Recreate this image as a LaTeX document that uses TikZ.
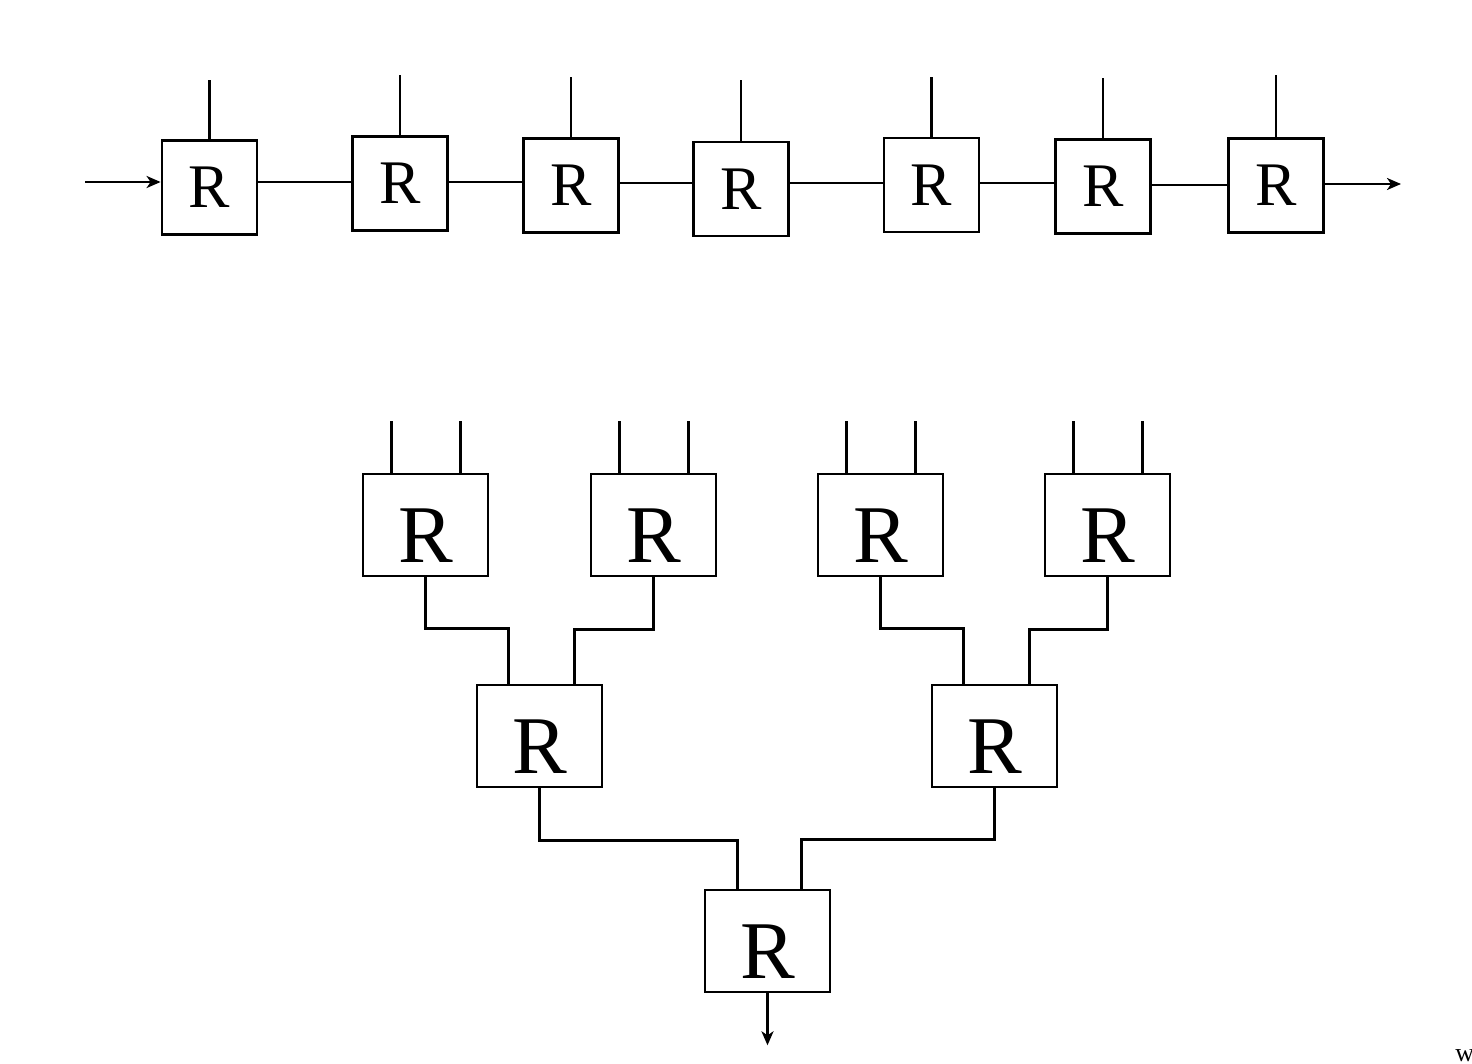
\documentclass[tikz,border=0pt]{standalone}
\usepackage{fontspec}
\setmainfont{Liberation Serif}
\usetikzlibrary{calc,arrows,arrows.meta}

\tikzset{
  rbox/.style={draw,line width=1.4pt,inner sep=0,minimum width=47.5pt,minimum height=47pt,font=\fontsize{31}{31}\selectfont},
  rbig/.style={draw,line width=1.3pt,inner sep=0,minimum width=62.5pt,minimum height=51pt,text height=37pt,text depth=0pt,font=\fontsize{41}{41}\selectfont},
  wire/.style={line width=1.2pt},
  tip/.style={-{Stealth[length=7pt,width=6pt,inset=2pt]}},
}

\begin{document}
\begin{tikzpicture}[x=0.5pt,y=-0.5pt]
    \useasboundingbox (0,0) rectangle (1472,1064);
    % chain of R boxes
    \node[rbox] (r1) at (209.5,187.5) {R};
    \node[rbox] (r2) at (400,183.5) {R};
    \node[rbox] (r3) at (571,185.5) {R};
    \node[rbox] (r4) at (741,189) {R};
    \node[rbox] (r5) at (931.5,185) {R};
    \node[rbox] (r6) at (1103,186.5) {R};
    \node[rbox] (r7) at (1276,185.5) {R};
    \foreach \n/\t in {r1/80,r2/75,r3/77,r4/80,r5/77,r6/78,r7/75}
        \draw[wire] (\n.north) -- (\n.north |- 0,\t);
    \foreach \a/\b/\y in {r1/r2/182,r2/r3/182,r3/r4/183,r4/r5/183,r5/r6/183,r6/r7/185}
        \draw[wire] (\a.east |- 0,\y) -- (\b.west |- 0,\y);
    \path coordinate (in) at (85,182);
    \draw[wire,tip] (in) -- (r1.west |- in);
    \path coordinate (out) at (1401,184);
    \draw[wire,tip] (r7.east |- out) -- (out);

    % tree of R boxes
    \node[rbig] (A) at (425.5,525) {R};
    \node[rbig] (B) at (653.5,525) {R};
    \node[rbig] (C) at (880.5,525) {R};
    \node[rbig] (D) at (1107.5,525) {R};
    \node[rbig] (E) at (539.5,736) {R};
    \node[rbig] (F) at (994.5,736) {R};
    \node[rbig] (G) at (767.5,941) {R};
    \foreach \n in {A,B,C,D}{
        \draw[wire] ($(\n.north)+(-34,0)$) -- ++(0,-52);
        \draw[wire] ($(\n.north)+(35,0)$) -- ++(0,-52);
    }
    \draw[wire] (A.south) -- ++(0,51) -| ($(E.north)+(-31,0)$);
    \draw[wire] (B.south) -- ++(0,52) -| ($(E.north)+(35,0)$);
    \draw[wire] (C.south) -- ++(0,51) -| ($(F.north)+(-31,0)$);
    \draw[wire] (D.south) -- ++(0,52) -| ($(F.north)+(35,0)$);
    \draw[wire] (E.south) -- ++(0,52) -| ($(G.north)+(-30,0)$);
    \draw[wire] (F.south) -- ++(0,51) -| ($(G.north)+(34,0)$);
    \draw[wire,tip] (G.south) -- ++(0,52);

    \node[font=\fontsize{13}{13}\selectfont,anchor=base west,inner sep=0] (w) at (1455,1061) {w};
\end{tikzpicture}
\end{document}
